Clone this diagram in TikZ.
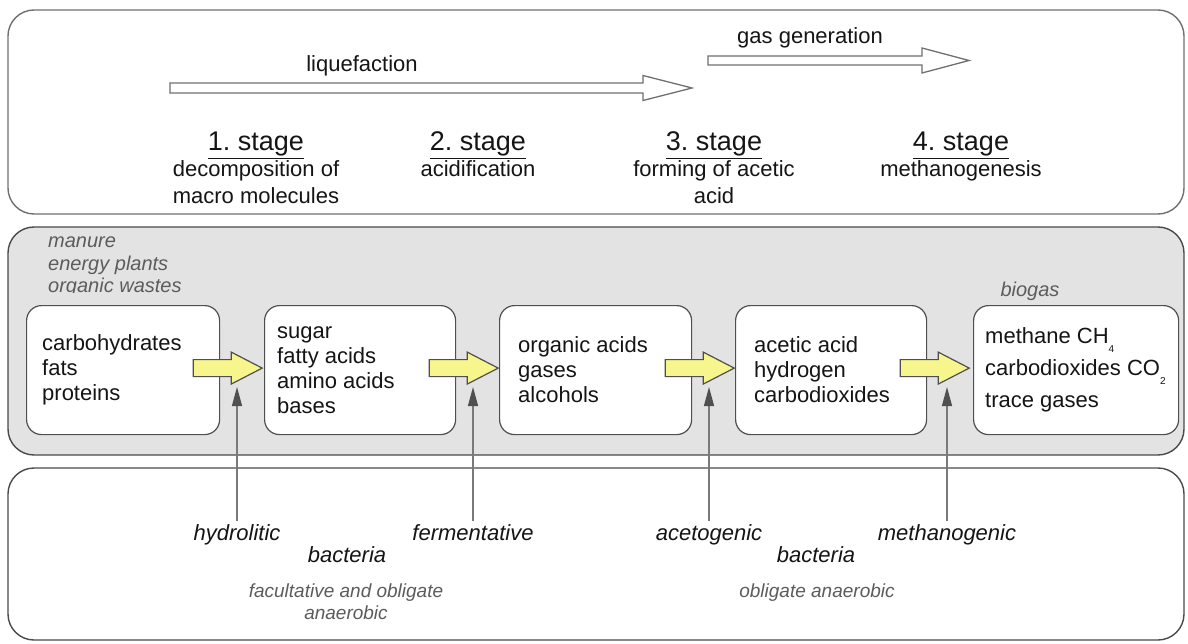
\documentclass[tikz,border=0pt]{standalone}
\usepackage{fontspec}
\setmainfont{Liberation Sans}
\usetikzlibrary{arrows.meta}

\definecolor{paneledge}{HTML}{707070}
\definecolor{paneldark}{HTML}{4A4A4A}
\definecolor{panelfill}{HTML}{E3E3E3}
\definecolor{boxedge}{HTML}{4F4F4F}
\definecolor{flowyellow}{HTML}{F6F68C}
\definecolor{feedline}{HTML}{7A7A7A}
\definecolor{feedtip}{HTML}{505050}
\definecolor{softtext}{HTML}{5C5C5C}
\definecolor{maintext}{HTML}{151515}

\tikzset{
  panel/.style={draw=paneledge, line width=1.4pt, rounded corners=26pt},
  item/.style={draw=boxedge, fill=white, line width=1.2pt, rounded corners=15pt,
    inner sep=0pt, anchor=north west, minimum height=129pt},
  itemtext/.style={anchor=west, align=left, inner sep=0pt, text=maintext,
    font=\fontsize{22}{25}\selectfont},
  toptext/.style={anchor=base, text=maintext, font=\fontsize{22}{25}\selectfont},
  stagehead/.style={anchor=base, text=maintext, font=\fontsize{27}{30}\selectfont},
  % multi-line nodes: the base anchor sits on the last line
  stagedesc/.style={anchor=base, align=center, text=maintext, font=\fontsize{22}{27}\selectfont},
  source/.style={anchor=base west, inner sep=0pt, text=softtext, font=\fontsize{20}{22}\selectfont\itshape},
  bactlabel/.style={anchor=base, text=maintext, font=\fontsize{22}{25}\selectfont\itshape},
  notelabel/.style={anchor=base, align=center, text=softtext, font=\fontsize{19}{22}\selectfont\itshape},
  hollowarrow/.style={draw=paneledge, fill=white, line width=1.3pt, line join=miter},
  yellowarrow/.style={draw=boxedge, fill=flowyellow, line width=1.2pt},
  feed/.style={draw=feedline, line width=1.3pt, -{Triangle[length=19pt,width=10pt,color=feedtip]}},
  pics/blockarrow/.style n args={5}{code={
    \draw[#5] (0,-#3) -- (#1-#2,-#3) -- (#1-#2,-#4) -- (#1,0) -- (#1-#2,#4)
      -- (#1-#2,#3) -- (0,#3) -- cycle;}},
}

\begin{document}
\begin{tikzpicture}[x=1pt, y=-1pt]
\useasboundingbox (0,0) rectangle (1188,644);

% three bands
\draw[panel, fill=white] (8,10) rectangle (1184,214);
\draw[panel, draw=paneldark, fill=panelfill] (8,227) rectangle (1184,455);
\draw[panel, draw=paneldark, fill=white] (8,468) rectangle (1184,640);

% phases
\pic at (170,88) {blockarrow={522}{49}{5}{12.5}{hollowarrow}};
\node[toptext] (liq) at (362,72) {liquefaction};
\pic at (708,60.5) {blockarrow={261}{47}{4.5}{12.5}{hollowarrow}};
\node[toptext] (gas) at (810,44) {gas generation};

% stages
\node[stagehead] (s1) at (256,151) {\underline{1.\ stage}};
\node[stagedesc] (d1) at (256,204) {decomposition of\\macro molecules};
\node[stagehead] (s2) at (478,151) {\underline{2.\ stage}};
\node[stagedesc] (d2) at (478,177) {acidification};
\node[stagehead] (s3) at (714,151) {\underline{3.\ stage}};
\node[stagedesc] (d3) at (714,204) {forming of acetic\\acid};
\node[stagehead] (s4) at (961,151) {\underline{4.\ stage}};
\node[stagedesc] (d4) at (961,177) {methanogenesis};

% feedstock
\node[source] (src1) at (48,248) {manure};
\node[source] (src2) at (48,270) {energy plants};
\begin{scope}
  \clip (30,275) rectangle (300,292.5);
  \node[source] (src3) at (48,292) {organic wastes};
\end{scope}
\node[source, anchor=base] (bio) at (1030,296) {biogas};

% substance boxes
\node[item, minimum width=193pt] (b1) at (26,305) {};
\node[item, minimum width=191pt] (b2) at (264,305) {};
\node[item, minimum width=192pt] (b3) at (499,305) {};
\node[item, minimum width=191pt] (b4) at (735,305) {};
\node[item, minimum width=205pt] (b5) at (973,305) {};

\node[itemtext] (c1) at ([xshift=16pt]b1.west) {carbohydrates\\fats\\proteins};
\node[itemtext] (c2) at ([xshift=13pt]b2.west) {sugar\\fatty acids\\amino acids\\bases};
\node[itemtext] (c3) at ([xshift=19pt]b3.west) {organic acids\\gases\\alcohols};
\node[itemtext] (c4) at ([xshift=19pt]b4.west) {acetic acid\\hydrogen\\carbodioxides};
\node[itemtext] (c5) at ([xshift=12pt]b5.west)
  {methane CH\raisebox{-9pt}{\fontsize{10}{10}\selectfont 4}\\[7pt]
   carbodioxides CO\raisebox{-9pt}{\fontsize{10}{10}\selectfont 2}\\[7pt]
   trace gases};

% conversion arrows
\pic at ([xshift=-27pt,yshift=2pt]b1.east) {blockarrow={69}{31}{8.5}{16}{yellowarrow}};
\pic at ([xshift=-27pt,yshift=2pt]b2.east) {blockarrow={69}{31}{8.5}{16}{yellowarrow}};
\pic at ([xshift=-27pt,yshift=2pt]b3.east) {blockarrow={69}{31}{8.5}{16}{yellowarrow}};
\pic at ([xshift=-27pt,yshift=2pt]b4.east) {blockarrow={69}{31}{8.5}{16}{yellowarrow}};

% bacteria groups
\node[bactlabel] (hyd) at (237,540) {hydrolitic};
\node[bactlabel] (fer) at (473,540) {fermentative};
\node[bactlabel] (bac1) at (347,562) {bacteria};
\node[notelabel] (an1) at (346,619) {facultative and obligate\\anaerobic};
\node[bactlabel] (ace) at (709,540) {acetogenic};
\node[bactlabel] (met) at (947,540) {methanogenic};
\node[bactlabel] (bac2) at (816,562) {bacteria};
\node[notelabel] (an2) at (817,597) {obligate anaerobic};

\coordinate (t1) at (237,387);
\coordinate (t2) at (473,387);
\coordinate (t3) at (709,387);
\coordinate (t4) at (947,387);
\draw[feed] (hyd.north) -- (t1);
\draw[feed] (fer.north) -- (t2);
\draw[feed] (ace.north) -- (t3);
\draw[feed] (met.north) -- (t4);
\end{tikzpicture}
\end{document}
